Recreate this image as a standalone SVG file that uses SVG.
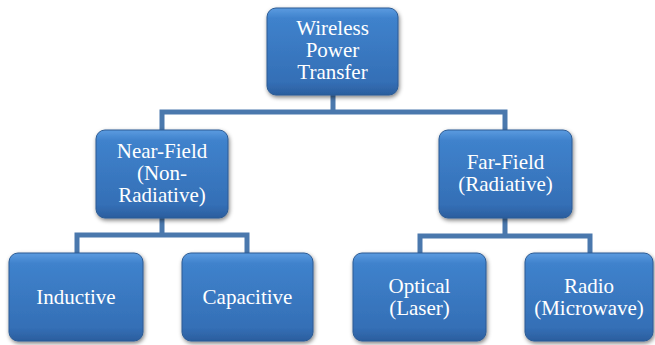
<svg xmlns="http://www.w3.org/2000/svg" width="655" height="345" viewBox="0 0 655 345">
<defs>
<linearGradient id="g" x1="0" y1="0" x2="0" y2="1">
<stop offset="0" stop-color="#5b9be0"/>
<stop offset="0.12" stop-color="#3f82cc"/>
<stop offset="0.85" stop-color="#346fb6"/>
<stop offset="1" stop-color="#2b5e9e"/>
</linearGradient>
<filter id="sh" x="-10%" y="-10%" width="125%" height="130%">
<feGaussianBlur in="SourceAlpha" stdDeviation="2"/>
<feOffset dx="1" dy="2" result="b"/>
<feComponentTransfer><feFuncA type="linear" slope="0.5"/></feComponentTransfer>
<feMerge><feMergeNode/><feMergeNode in="SourceGraphic"/></feMerge>
</filter>
</defs>
<style>
.box{fill:url(#g);stroke:#2c5b94;stroke-width:1;filter:url(#sh)}
.t{font-family:"Liberation Serif","Times New Roman",serif;font-size:21px;fill:#ffffff;text-anchor:middle}
.c{fill:none;stroke:#4a78ad;stroke-width:5}
</style>
<g id="connectors">
<path class="c" d="M333 95 V112 M162 130 V112 H505 V130"/>
<path class="c" d="M162 218 V235 M77 253 V235 H247 V253"/>
<path class="c" d="M505 218 V236 M420 253 V236 H590 V253"/>
</g>
<g id="wpt">
<rect class="box" x="267" y="8" width="131" height="87" rx="9"/>
<text class="t" x="332.5" y="35">Wireless</text>
<text class="t" x="332.5" y="57">Power</text>
<text class="t" x="332.5" y="79">Transfer</text>
</g>
<g id="near">
<rect class="box" x="96" y="130" width="132" height="88" rx="9"/>
<text class="t" x="162" y="158">Near-Field</text>
<text class="t" x="162" y="180">(Non-</text>
<text class="t" x="162" y="202">Radiative)</text>
</g>
<g id="far">
<rect class="box" x="439" y="130" width="133" height="88" rx="9"/>
<text class="t" x="505.5" y="169">Far-Field</text>
<text class="t" x="505.5" y="191">(Radiative)</text>
</g>
<g id="inductive">
<rect class="box" x="9" y="253" width="134" height="88" rx="9"/>
<text class="t" x="76" y="304">Inductive</text>
</g>
<g id="capacitive">
<rect class="box" x="182" y="253" width="131" height="88" rx="9"/>
<text class="t" x="247.5" y="304">Capacitive</text>
</g>
<g id="optical">
<rect class="box" x="353" y="253" width="133" height="88" rx="9"/>
<text class="t" x="419.5" y="293">Optical</text>
<text class="t" x="419.5" y="315">(Laser)</text>
</g>
<g id="radio">
<rect class="box" x="525" y="253" width="128" height="88" rx="9"/>
<text class="t" x="589" y="293">Radio</text>
<text class="t" x="589" y="315">(Microwave)</text>
</g>
</svg>
